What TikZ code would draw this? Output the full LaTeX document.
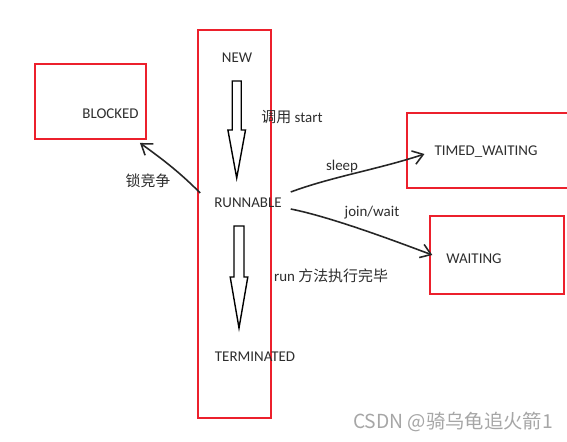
\documentclass[tikz,border=0pt]{standalone}
\usepackage{fontspec}
\setmainfont{Carlito}
\newfontfamily\cjk{Noto Sans CJK SC}
\usetikzlibrary{arrows.meta}
\definecolor{boxred}{RGB}{236,32,44}
\definecolor{ink}{RGB}{45,45,45}

\tikzset{
  flow/.style={draw=black!85,line width=0.9pt,-{Straight Barb[length=0.2cm,width=0.28cm]}},
  hollow/.style={draw=black,line width=0.8pt,line join=miter},
}

\begin{document}
\begin{tikzpicture}[x=0.02cm,y=-0.02cm]
        \useasboundingbox (0,0) rectangle (567,442);
        \clip (0,0) rectangle (567,442);

        \begin{scope}[every node/.style={draw=boxred,line width=1.1pt,inner sep=0}]
          \node[minimum width=1.46cm,minimum height=7.76cm] (col) at (234.5,224) {};
          \node[minimum width=2.22cm,minimum height=1.5cm]  (blk) at (90.5,101.5) {};
          \node[minimum width=3.4cm,minimum height=1.5cm]   (tw)  at (492,150.5) {};
          \node[minimum width=2.68cm,minimum height=1.56cm] (w)   at (497,255) {};
        \end{scope}

        \begin{scope}[every node/.style={text=ink,font=\fontsize{8.5}{10}\selectfont,inner sep=1pt}]
          \node (new)  at (237,58)    {NEW};
          \node (run)  at (248,203)   {RUNNABLE};
          \node (term) at (255,357)   {TERMINATED};
          \node (blkt) at (110.5,114) {BLOCKED};
          \node (twt)  at (486,152)   {TIMED\_WAITING};
          \node (wt)   at (474,259)   {WAITING};
          \node (l1)   at (292,117)   {{\cjk 调用} start};
          \node (l2)   at (331,276)   {run {\cjk 方法执行完毕}};
          \node (l3)   at (148,181)   {\cjk 锁竞争};
          \node (l4)   at (342,167)   {sleep};
          \node (l5)   at (372,213)   {join/wait};
        \end{scope}

        % hollow arrows down the column
        \coordinate (upA) at (236.7,81);
        \coordinate (upB) at (239,226);
        \draw[hollow] ([shift={(-4.5,0)}]upA) -- ++(0,49) -- ++(-4.3,0) -- ([shift={(0,97)}]upA)
                      -- ([shift={(8.8,49)}]upA) -- ++(-4.3,0) -- ([shift={(4.5,0)}]upA) -- cycle;
        \draw[hollow] ([shift={(-5,0)}]upB) -- ++(0,51) -- ++(-3.8,0) -- ([shift={(0,102)}]upB)
                      -- ([shift={(8.8,51)}]upB) -- ++(-3.8,0) -- ([shift={(5,0)}]upB) -- cycle;

        \draw[flow] ([shift={(-12,-10)}]run.west) .. controls +(-20,-20) and +(25,18) .. ([shift={(-7,3)}]blk.south east);
        \draw[flow] ([shift={(7,-11)}]run.east) .. controls +(40,-15) and +(-45,15) .. ([shift={(-8,2)}]twt.west);
        \draw[flow] ([shift={(7,6)}]run.east) .. controls +(40,8) and +(-40,-15) .. ([shift={(-12,-4)}]wt.west);

        \node[text=gray!70,font=\cjk\fontsize{11}{13}\selectfont,inner sep=0] (mark) at (453,422) {CSDN @骑乌龟追火箭1};

      \end{tikzpicture}
\end{document}
